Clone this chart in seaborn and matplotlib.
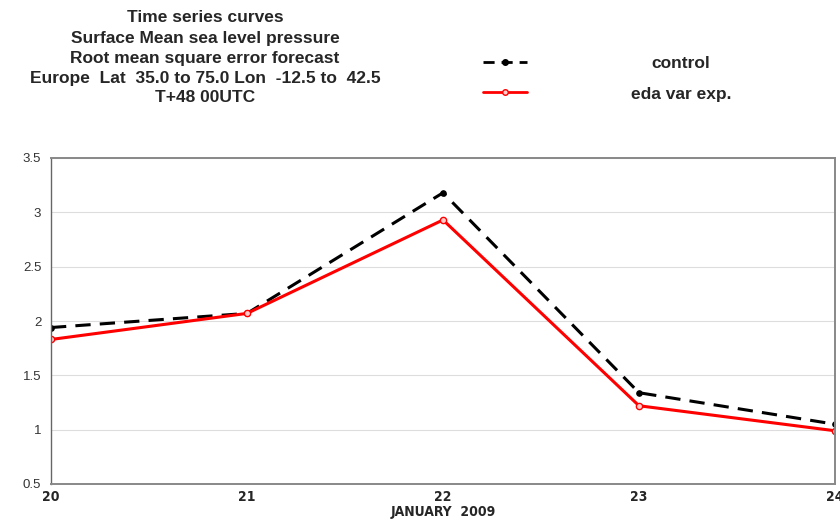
import matplotlib
matplotlib.use("Agg")
import matplotlib.pyplot as plt
import seaborn as sns
import pandas as pd

days = [20, 21, 22, 23, 24]
control = [1.94, 2.07, 3.18, 1.34, 1.05]
eda_var = [1.83, 2.07, 2.93, 1.22, 0.99]
series_names = ["control", "eda var exp."]
y_ticks = [0.5, 1, 1.5, 2, 2.5, 3, 3.5]
y_tick_labels = ["0.5", "1", "1.5", "2", "2.5", "3", "3.5"]
title_lines = [
    "Time series curves",
    "Surface Mean sea level pressure",
    "Root mean square error forecast",
    "Europe  Lat  35.0 to 75.0 Lon  -12.5 to  42.5",
    "T+48 00UTC",
]
x_title = "JANUARY  2009"

df = pd.DataFrame({
    "day": days * 2,
    "rmse": control + eda_var,
    "run": [series_names[0]] * len(days) + [series_names[1]] * len(days),
})

sns.set_style("white")
plt.rcParams["font.family"] = ["Liberation Sans", "DejaVu Sans"]

fig = plt.figure(figsize=(8.4, 5.2), dpi=100)
ax = fig.add_axes([51 / 840, 36 / 520, 784 / 840, 326 / 520])

palette = {series_names[0]: "black", series_names[1]: "#ff0000"}
sns.lineplot(data=df, x="day", y="rmse", hue="run", palette=palette,
             ax=ax, legend=False, sort=False)
ax.lines[0].set(linestyle=(0, (5, 3)), linewidth=2.2, marker="o",
                markersize=4, markerfacecolor="black", markeredgecolor="black")
ax.lines[1].set(linestyle="-", linewidth=2.2, marker="o", markersize=4.5,
                markerfacecolor="#ffcccc", markeredgecolor="#ff0000",
                markeredgewidth=1.0)

ax.set_xlim(20, 24)
ax.set_ylim(0.5, 3.5)
ax.set_xticks(days)
ax.set_xticklabels([str(d) for d in days], fontsize=10, fontweight="bold",
                   family="DejaVu Sans", fontstretch="condensed")
ax.set_yticks(y_ticks)
ax.set_yticklabels(y_tick_labels, fontsize=9.5, color="#333333")
ax.set_xlabel(x_title, fontsize=10, fontweight="bold", labelpad=1,
              family="DejaVu Sans", fontstretch="condensed")
ax.set_ylabel("")
ax.grid(axis="y", color="#dddddd", linewidth=0.8)
ax.set_axisbelow(True)
for side, sp in ax.spines.items():
    sp.set_visible(True)
    sp.set_color("#888888")
    sp.set_linewidth(1.4)
ax.spines["left"].set_color("#666666")
ax.spines["left"].set_linewidth(1.0)
ax.tick_params(axis="y", direction="out", length=5, width=0.8, color="#666666", pad=2)
ax.tick_params(axis="x", direction="inout", length=6, width=0.8, color="#666666", pad=1)

# multi-line heading, upper left
for i, line in enumerate(title_lines):
    fig.text(205 / 840, 1 - (18 + 20 * i) / 520, line, ha="center", va="center",
             fontsize=12.5, fontweight="bold")

# legend drawn as sample strokes with labels to the right
lax = fig.add_axes([0, 0, 1, 1], facecolor="none")
lax.set_xlim(0, 840)
lax.set_ylim(520, 0)
lax.axis("off")
lax.plot([483, 527], [62, 62], color="black", linestyle=(0, (4, 2.5)), linewidth=2)
lax.plot([505], [62], marker="o", color="black", markersize=4)
lax.plot([483, 527], [92, 92], color="#ff0000", linewidth=2)
lax.plot([505], [92], marker="o", markersize=4, markerfacecolor="#ffcccc",
         markeredgecolor="#ff0000")
lax.text(681, 63, series_names[0], ha="center", va="center", fontsize=12.5,
         fontweight="bold")
lax.text(681, 94, series_names[1], ha="center", va="center", fontsize=12.5,
         fontweight="bold")

fig.savefig("out.png", dpi=100, facecolor="white")
